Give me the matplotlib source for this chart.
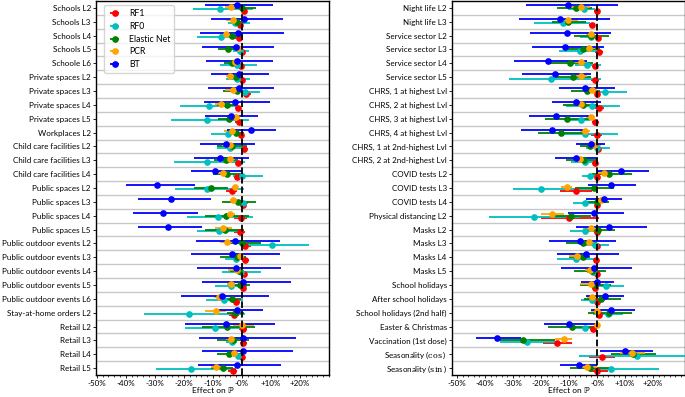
import matplotlib
matplotlib.use("Agg")
import matplotlib.pyplot as plt
import numpy as np

plt.rcParams['font.family'] = ['Lato', 'DejaVu Sans']
plt.rcParams['mathtext.fontset'] = 'dejavuserif'

left_labels = ["Schools L2", "Schools L3", "Schools L4", "Schools L5", "Schoole L6",
               "Private spaces L2", "Private spaces L3", "Private spaces L4", "Private spaces L5",
               "Workplaces L2", "Child care facilities L2", "Child care facilities L3",
               "Child care facilities L4", "Public spaces L2", "Public spaces L3",
               "Public spaces L4", "Public spaces L5", "Public outdoor events L2",
               "Public outdoor events L3", "Public outdoor events L4", "Public outdoor events L5",
               "Public outdoor events L6", "Stay-at-home orders L2", "Retail L2", "Retail L3",
               "Retail L4", "Retail L5"]

right_labels = ["Night life L2", "Night life L3", "Service sector L2", "Service sector L3",
                "Service sector L4", "Service sector L5", "CHRS, 1 at highest Lvl",
                "CHRS, 2 at highest Lvl", "CHRS, 3 at highest Lvl", "CHRS, 4 at highest Lvl",
                "CHRS, 1 at 2nd-highest Lvl", "CHRS, 2 at 2nd-highest Lvl", "COVID tests L2",
                "COVID tests L3", "COVID tests L4", "Physical distancing L2", "Masks L2",
                "Masks L3", "Masks L4", "Masks L5", "School holidays", "After school holidays",
                "School holidays (2nd half)", "Easter & Christmas", "Vaccination (1st dose)",
                r"Seasonality ($\cos$)", r"Seasonality ($\sin$)"]

# (estimate, lower, upper) in percent
left_rf1 = [(0.7, -0.5, 1.6), (-0.7, -1.6, 0.2), (-1.1, -2.4, 0.5), (0.0, -0.9, 0.7),
            (-0.2, -1.1, 0.7), (0.0, -0.9, 0.7), (1.4, 0.2, 3.0), (-1.4, -2.5, -0.5),
            (-1.1, -2.3, -0.2), (-0.5, -1.6, 0.7), (0.7, -0.5, 2.2), (-1.3, -2.4, -0.5),
            (-1.6, -2.8, -0.7), (-3.4, -5.5, -1.6), (0.2, -0.7, 1.0), (-0.5, -2.8, 1.8),
            (-0.7, -2.8, 1.0), (1.1, -0.5, 3.0), (0.9, 0.0, 2.3), (0.7, 0.0, 1.6),
            (0.2, -0.7, 1.1), (-2.2, -3.6, -0.7), (-2.8, -4.4, -1.1), (0.5, -0.9, 1.8),
            (0.5, -0.7, 1.6), (0.0, -0.7, 0.7), (-3.0, -4.7, -1.6)]
left_rf0 = [(-7.4, -16.8, 3.9), (-2.4, -4.7, 2.8), (-7.2, -15.4, 0.5), (-0.7, -3.0, 2.5),
            (-1.8, -7.6, 5.3), (-1.6, -5.5, 2.8), (1.1, -3.0, 6.2), (-11.4, -21.4, -1.3),
            (-12.0, -24.3, 2.3), (-4.9, -10.5, 0.0), (-4.1, -8.7, 0.5), (-12.0, -23.4, 1.0),
            (0.0, -3.0, 7.1), (-12.0, -23.1, 0.7), (0.2, -1.8, 2.2), (-8.4, -19.1, 3.7),
            (-7.9, -15.4, -0.7), (10.3, -0.5, 23.2), (-2.1, -5.9, 1.6), (-0.5, -7.0, 6.4),
            (-3.9, -9.3, 1.6), (-6.2, -12.5, 0.5), (-18.2, -33.7, 1.0), (-9.3, -19.7, 0.5),
            (-3.6, -5.5, -1.8), (-1.3, -3.0, 0.7), (-17.6, -29.7, -2.1)]
left_en = [(0.0, -4.1, 5.0), (-1.6, -3.6, 0.2), (-3.6, -7.6, 0.0), (-4.7, -8.2, -0.9),
           (-3.4, -6.2, -0.9), (-2.1, -4.7, 0.2), (-1.8, -6.7, 0.7), (-5.3, -8.7, -1.6),
           (-4.5, -8.2, -0.9), (-2.1, -4.7, 0.7), (-3.6, -8.7, 1.6), (-5.6, -9.5, -1.3),
           (-5.1, -10.1, -0.5), (-10.5, -16.6, -4.7), (-1.3, -7.0, 4.8), (-5.5, -12.8, 2.5),
           (-5.9, -12.8, 0.7), (0.0, -4.1, 6.4), (-1.6, -7.6, 1.4), (-0.9, -4.1, 0.7),
           (-0.7, -3.0, 2.8), (-3.6, -7.0, -0.5), (-2.4, -5.3, 0.7), (-5.3, -13.6, 4.5),
           (-3.0, -8.7, 2.5), (-4.4, -8.7, -0.5), (-6.7, -10.5, -3.0)]
left_pcr = [(-3.8, -5.9, -1.8), (-3.2, -5.5, -1.3), (-5.5, -7.6, -3.6), (-1.3, -2.4, 0.0),
            (-2.4, -4.1, -0.9), (-4.1, -5.5, -2.4), (-3.2, -5.9, -1.6), (-7.1, -9.3, -5.1),
            (-2.1, -3.6, -0.7), (-3.6, -6.2, -1.6), (-4.1, -7.0, -2.4), (-4.1, -5.9, -2.4),
            (-6.4, -8.2, -4.7), (-2.4, -3.6, -1.6), (-3.0, -4.1, -1.8), (-4.1, -5.5, -2.4),
            (-6.7, -9.3, -3.6), (-5.1, -7.6, -2.4), (-0.7, -1.6, 0.5), (-1.8, -4.7, -0.7),
            (-3.9, -5.3, -2.4), (-7.8, -9.7, -6.2), (-9.1, -12.8, -5.5), (0.0, -3.0, 4.1),
            (-3.9, -5.5, -2.3), (-2.8, -4.1, -1.3), (-9.1, -10.8, -7.0)]
left_bt = [(-1.8, -12.8, 10.8), (0.7, -10.8, 14.0), (-1.3, -14.5, 14.5), (-2.2, -13.9, 11.0),
           (-1.6, -12.4, 10.6), (-1.1, -10.8, 9.4), (-1.0, -11.6, 11.0), (-2.4, -13.0, 9.7),
           (-3.7, -12.8, 5.4), (3.0, -5.1, 11.6), (-5.5, -14.5, 4.5), (-7.6, -16.6, 2.5),
           (-9.2, -17.7, 0.0), (-29.2, -40.0, -16.3), (-24.3, -35.9, -10.6),
           (-27.1, -37.5, -15.2), (-25.4, -35.9, -13.6), (-2.4, -15.9, 13.1),
           (-3.6, -17.7, 13.1), (-2.1, -15.4, 13.3), (0.5, -13.6, 16.8), (-7.0, -21.1, 9.4),
           (-1.8, -8.2, 7.1), (-5.5, -19.7, 11.4), (0.5, -14.7, 18.6), (0.5, -13.9, 17.5),
           (-1.8, -15.1, 13.3)]

right_rf1 = [(-0.1, -1.1, 1.0), (-1.8, -3.0, -0.6), (0.4, -0.6, 1.3), (0.6, -0.8, 2.1),
             (-0.6, -1.8, 0.4), (-0.8, -2.3, 0.6), (0.0, -0.8, 1.0), (0.6, -0.6, 2.5),
             (-0.6, -1.8, 0.6), (0.0, -2.0, 1.8), (0.4, -0.5, 1.3), (-0.8, -1.8, 0.1),
             (-0.1, -0.8, 0.6), (-7.6, -13.3, -1.8), (-0.1, -0.8, 0.6), (-10.1, -20.1, 0.6),
             (0.0, -0.8, 1.0), (0.1, -0.8, 1.0), (-0.5, -1.4, 0.6), (-0.1, -0.8, 0.6),
             (-0.6, -1.8, 0.4), (0.1, -0.6, 1.0), (0.6, -0.2, 1.5), (-1.4, -2.6, 0.0),
             (-14.3, -19.3, -8.9), (1.8, -3.0, 6.5), (0.0, -2.6, 3.9)]
right_rf0 = [(-4.6, -10.4, -0.6), (-12.1, -22.5, -2.6), (-2.3, -6.2, 1.0), (-6.2, -13.7, 0.4),
             (-3.7, -8.0, 1.3), (-16.5, -31.5, 1.3), (3.0, -2.0, 10.8), (-1.8, -11.0, 8.1),
             (-5.8, -10.4, -2.6), (-4.2, -12.7, 7.3), (-0.2, -3.8, 4.5), (-4.4, -9.2, 0.1),
             (-2.5, -5.4, 0.1), (-19.9, -30.0, -0.8), (-4.2, -8.6, 0.4), (-22.5, -38.7, -6.2),
             (-4.2, -9.8, 1.0), (-0.8, -5.0, 4.2), (-7.4, -14.2, -0.8), (-1.4, -3.5, 0.4),
             (3.3, -1.4, 9.6), (-1.7, -5.8, 2.7), (3.9, -1.4, 9.3), (-4.2, -8.6, 0.1),
             (-24.9, -34.8, -14.5), (14.4, -6.5, 34.9), (4.9, -3.2, 22.0)]
right_en = [(-7.6, -14.2, -1.8), (-10.4, -16.1, -3.8), (-2.3, -8.2, 4.2), (-5.0, -11.0, 1.0),
            (-9.8, -17.5, -1.4), (-8.6, -15.1, -2.0), (-3.7, -9.4, 1.0), (-5.0, -12.1, 0.4),
            (-10.8, -18.7, -1.7), (-12.7, -21.1, -3.8), (-2.6, -6.2, 1.0), (-4.8, -11.0, 0.4),
            (4.3, -1.8, 12.3), (-1.1, -8.0, 6.1), (0.1, -3.2, 4.2), (-9.2, -15.4, -2.0),
            (0.4, -5.0, 6.3), (-5.0, -11.0, 0.1), (-4.9, -10.1, -2.6), (-1.8, -8.2, 3.3),
            (-0.6, -6.2, 5.1), (1.5, -4.6, 8.5), (4.2, -3.2, 12.5), (-8.8, -17.5, 0.1),
            (-26.4, -36.5, -14.9), (12.9, 4.9, 21.2), (-2.6, -9.8, 5.1)]
right_pcr = [(-5.8, -9.4, -2.6), (-10.4, -12.7, -6.8), (-2.3, -3.8, -0.6), (-3.0, -5.0, -0.8),
             (-5.8, -8.0, -3.5), (-5.6, -7.7, -3.5), (-1.8, -3.2, -0.2), (-5.8, -7.4, -4.2),
             (-2.3, -3.8, -0.8), (-4.4, -6.2, -2.6), (-1.1, -3.2, 1.3), (-6.0, -8.0, -3.8),
             (2.4, 0.1, 5.1), (-10.7, -12.7, -8.9), (1.3, -0.8, 3.7), (-16.1, -20.1, -11.8),
             (-2.0, -5.0, 1.0), (-3.0, -4.6, -1.1), (-7.0, -10.1, -4.2), (-2.6, -4.2, -0.8),
             (-2.0, -6.2, 1.0), (-1.8, -3.5, 0.1), (-0.2, -2.3, 1.8), (0.1, -0.2, 0.6),
             (-11.8, -14.9, -8.9), (12.3, 8.1, 17.0), (-3.6, -6.8, -0.2)]
right_bt = [(-10.4, -25.2, 7.3), (-13.1, -27.9, 4.5), (-10.7, -24.0, 5.1), (-11.3, -23.2, 2.5),
            (-17.5, -29.6, -3.5), (-15.1, -26.7, -2.0), (-4.2, -13.7, 6.5), (-7.7, -16.1, 1.5),
            (-14.5, -24.4, -2.3), (-16.0, -27.0, -3.2), (-2.3, -7.4, 3.0), (-7.4, -14.9, 0.4),
            (8.7, -0.2, 18.6), (4.9, -3.2, 13.8), (2.4, -3.8, 9.0), (-1.1, -10.4, 9.5),
            (4.3, -7.6, 17.9), (-6.0, -17.3, 6.7), (-4.0, -14.3, 7.9), (-1.1, -12.7, 12.5),
            (0.0, -5.6, 6.0), (2.7, -3.8, 9.6), (5.1, -2.3, 13.5), (-10.0, -19.0, 0.0),
            (-35.7, -43.1, -27.3), (9.9, 1.0, 19.8), (-6.5, -13.1, 0.1)]

model_names = ["RF1", "RF0", "Elastic Net", "PCR", "BT"]
model_colors = ["red", "c", "green", "orange", "blue"]
offsets = [0.2, 0.1, 0.0, -0.1, -0.2]

xticks = [-50, -40, -30, -20, -10, 0, 10, 20]
xticklabels = ["-50%", "-40%", "-30%", "-20%", "-10%", "-0%", "+10%", "+20%"]

fig = plt.figure(figsize=(6.85, 3.97), dpi=100)
ax1 = fig.add_axes([96 / 685, 1 - 375 / 397, 233 / 685, 374 / 397])
ax2 = fig.add_axes([452 / 685, 1 - 375 / 397, 233 / 685, 374 / 397])

panels = [(ax1, left_labels, [left_rf1, left_rf0, left_en, left_pcr, left_bt], (-50.3, 30.0)),
          (ax2, right_labels, [right_rf1, right_rf0, right_en, right_pcr, right_bt], (-51.8, 31.4))]

for ax, labels, series, xlim in panels:
    rows = np.arange(len(labels))
    for r in rows[:-1]:
        ax.axhline(r + 0.5, color='#c8c8c8', lw=1.0, zorder=0)
    for name, color, off, data in zip(model_names, model_colors, offsets, series):
        d = np.array(data)
        est, lo, hi = d[:, 0], d[:, 1], d[:, 2]
        ax.errorbar(est, rows + off, xerr=[est - lo, hi - est], fmt='o', color=color,
                    ms=3.8, lw=1.3, capsize=0, label=name, zorder=3)
    ax.axvline(0, color='black', ls='--', lw=1.3, zorder=4)
    ax.set_ylim(len(labels) - 0.5, -0.5)
    ax.set_yticks(rows)
    ax.set_yticklabels(labels, fontsize=5.8)
    ax.set_xlim(*xlim)
    ax.set_xticks(xticks)
    ax.set_xticklabels(xticklabels, fontsize=5.8)
    ax.set_xticks(np.arange(-50, 31, 2), minor=True)
    ax.tick_params(axis='both', length=2.5, width=0.6, pad=1.2)
    ax.tick_params(axis='x', which='minor', length=1.5, width=0.5)
    ax.set_xlabel("Effect on ℙ", fontsize=6.0, labelpad=0)
    for s in ax.spines.values():
        s.set_linewidth(1.0)

ax1.legend(loc='upper left', fontsize=6.3, handlelength=1.6, borderpad=0.45,
           labelspacing=0.42, bbox_to_anchor=(0.015, 1.0))

fig.savefig("out.png", dpi=100)
